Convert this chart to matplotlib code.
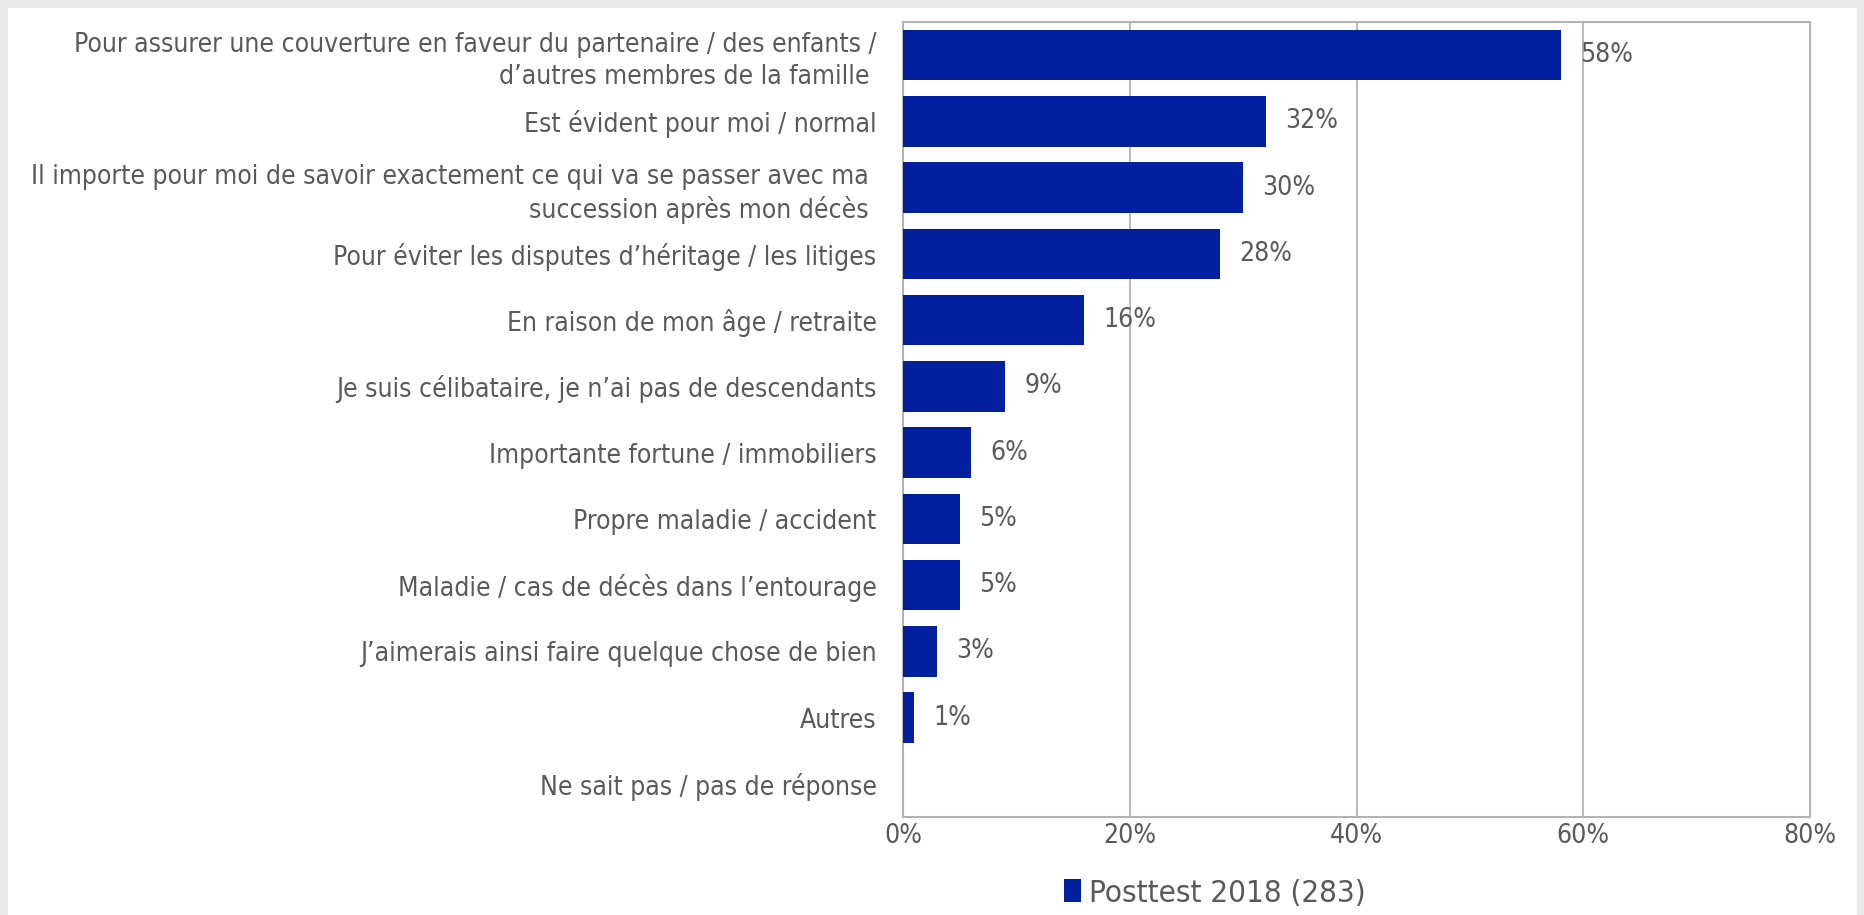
import matplotlib.pyplot as plt
from matplotlib.patches import Rectangle
from matplotlib.ticker import FuncFormatter

# ------------------------------------------------------------
# Données
# ------------------------------------------------------------
categories = [
    "Pour assurer une couverture en faveur du partenaire / des enfants /\nd’autres membres de la famille ",
    "Est évident pour moi / normal",
    "Il importe pour moi de savoir exactement ce qui va se passer avec ma \nsuccession après mon décès ",
    "Pour éviter les disputes d’héritage / les litiges",
    "En raison de mon âge / retraite",
    "Je suis célibataire, je n’ai pas de descendants",
    "Importante fortune / immobiliers",
    "Propre maladie / accident",
    "Maladie / cas de décès dans l’entourage",
    "J’aimerais ainsi faire quelque chose de bien",
    "Autres",
    "Ne sait pas / pas de réponse",
]
valeurs = [58, 32, 30, 28, 16, 9, 6, 5, 5, 3, 1, 0]
etiquettes = ["58%", "32%", "30%", "28%", "16%", "9%", "6%", "5%", "5%", "3%", "1%", ""]
serie = "Posttest 2018 (283)"
xticks = [0, 20, 40, 60, 80]

bleu = "#00209f"
gris_txt = "#595959"
gris_ligne = "#b3b3b3"

plt.rcParams["font.family"] = ["DejaVu Sans"]
plt.rcParams["font.stretch"] = "condensed"

fig = plt.figure(figsize=(18.64, 9.15), dpi=100, facecolor="#e9e9e9")
fig.patches.append(Rectangle((8 / 1864, 0), 1849 / 1864, 1 - 8 / 915,
                             transform=fig.transFigure, facecolor="white",
                             edgecolor="none", zorder=-10))

ax = fig.add_axes([903 / 1864, 1 - 817 / 915, 907 / 1864, 795 / 915])
ax.set_zorder(1)
ax.set_facecolor("white")

pos = list(range(len(categories)))
ax.barh(pos, valeurs, height=0.76, color=bleu, zorder=3, label=serie)

for y, v, t in zip(pos, valeurs, etiquettes):
    ax.text(v + 1.7, y, t, va="center", ha="left", fontsize=19,
            color=gris_txt, zorder=4)

ax.set_ylim(len(categories) - 0.5, -0.5)
ax.set_xlim(0, 80)
ax.set_yticks(pos)
ax.set_yticklabels(categories, fontsize=19, color=gris_txt, linespacing=1.28)
ax.set_xticks(xticks)
ax.xaxis.set_major_formatter(FuncFormatter(lambda v, p: f"{v:.0f}%"))
ax.tick_params(axis="x", length=0, pad=4, labelsize=19, labelcolor=gris_txt)
ax.tick_params(axis="y", length=0, pad=19)

ax.grid(axis="x", color=gris_ligne, linewidth=1.3, zorder=1)
for s in ax.spines.values():
    s.set_color(gris_ligne)
    s.set_linewidth(1.5)

fig.legend(loc="center", bbox_to_anchor=(1215 / 1864, 1 - 893 / 915),
           frameon=False, fontsize=22.5, handlelength=0.55, handleheight=0.75,
           handletextpad=0.25, labelcolor=gris_txt)

plt.savefig("out.png", dpi=100, facecolor=fig.get_facecolor())
